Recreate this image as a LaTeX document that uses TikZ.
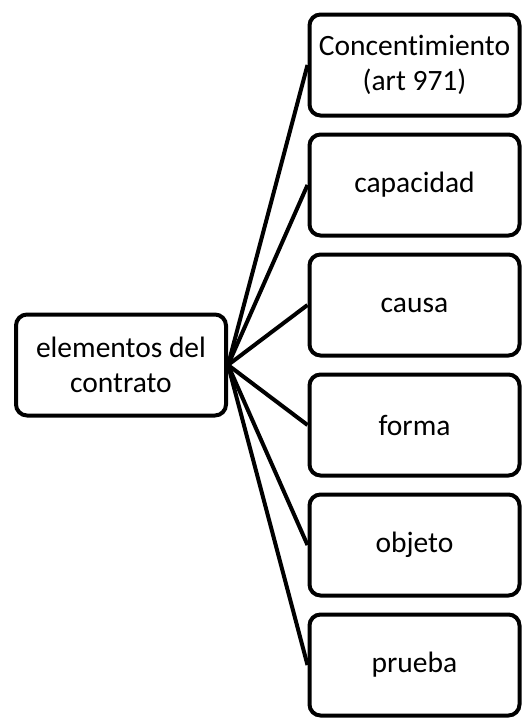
\documentclass[tikz,border=0pt]{standalone}
\usepackage{fontspec}
\setmainfont{Carlito}[Ligatures={NoCommon}]
\begin{document}
\begin{tikzpicture}[x=1pt,y=-1pt,
  box/.style={draw=black,line width=4pt,rounded corners=11pt,fill=white,
    minimum width=210pt,minimum height=101pt,align=center,
    font=\fontsize{29.5}{35}\selectfont,inner sep=0pt},
  link/.style={line width=4pt}]
\useasboundingbox (0,0) rectangle (528,718);
\node[box] (root) at (121,365) {elementos del\\contrato};
\node[box] (c1) at (414.5,65) {Concentimiento\\(art 971)};
\node[box] (c2) at (414.5,185) {capacidad};
\node[box] (c3) at (414.5,305) {causa};
\node[box] (c4) at (414.5,425) {forma};
\node[box] (c5) at (414.5,545) {objeto};
\node[box] (c6) at (414.5,665) {prueba};
\foreach \n in {c1,c2,c3,c4,c5,c6}{
  \draw[link] (root.east) -- (\n.west);
}
\end{tikzpicture}
\end{document}
